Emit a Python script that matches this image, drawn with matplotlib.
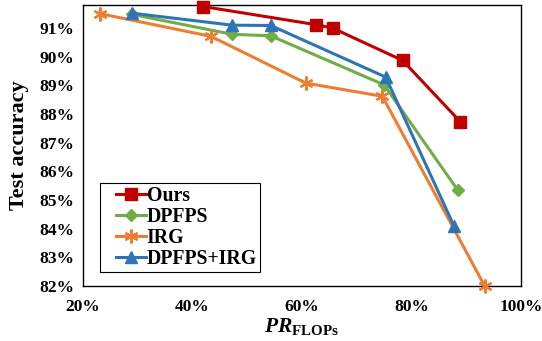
import matplotlib
matplotlib.use("Agg")
import matplotlib.pyplot as plt
from matplotlib.ticker import FuncFormatter
from matplotlib.legend_handler import HandlerLine2D

# Data (x: PR_FLOPs in %, y: test accuracy in %)
ours_x = [42.0, 62.5, 65.6, 78.4, 88.9]
ours_y = [91.75, 91.12, 91.0, 89.87, 87.74]

dpfps_x = [28.9, 47.3, 54.3, 75.0, 88.5]
dpfps_y = [91.48, 90.78, 90.73, 89.02, 85.34]

irg_x = [23.2, 43.4, 60.7, 74.7, 93.4]
irg_y = [91.5, 90.71, 89.08, 88.62, 82.0]

both_x = [28.9, 47.3, 54.3, 75.3, 87.8]
both_y = [91.52, 91.1, 91.09, 89.29, 84.09]

x_ticks = [20, 40, 60, 80, 100]
y_ticks = [82, 83, 84, 85, 86, 87, 88, 89, 90, 91]

plt.rcParams['font.family'] = ['Liberation Serif', 'DejaVu Serif']
plt.rcParams['font.weight'] = 'bold'
plt.rcParams['mathtext.fontset'] = 'custom'
plt.rcParams['mathtext.rm'] = 'Liberation Serif:bold'
plt.rcParams['mathtext.it'] = 'Liberation Serif:italic:bold'
plt.rcParams['mathtext.bf'] = 'Liberation Serif:bold'

fig = plt.figure(figsize=(5.42, 3.41), dpi=100)
ax = fig.add_axes([0.153, 0.161, 0.808, 0.824])

ax.plot(ours_x, ours_y, color='#C00000', marker='s', markersize=8, lw=2.2, label='Ours', clip_on=False, zorder=5)
ax.plot(dpfps_x, dpfps_y, color='#70AD47', marker='D', markersize=6.5, lw=2.2, label='DPFPS', clip_on=False, zorder=3)
ax.plot(irg_x, irg_y, color='#ED7D31', marker=(6, 2, 0), markersize=10, markeredgewidth=1.6, lw=2.2, label='IRG', clip_on=False, zorder=3)
ax.plot(both_x, both_y, color='#2E75B6', marker='^', markersize=8.5, lw=2.2, label='DPFPS+IRG', clip_on=False, zorder=4)

ax.set_xlim(20, 100)
ax.set_ylim(82, 91.8)
ax.set_xticks(x_ticks)
ax.set_yticks(y_ticks)
ax.xaxis.set_major_formatter(FuncFormatter(lambda v, p: f"{v:.0f}%"))
ax.yaxis.set_major_formatter(FuncFormatter(lambda v, p: f"{v:.0f}%"))
ax.tick_params(length=0, labelsize=12.5, pad=6)
ax.tick_params(axis='x', pad=9)
for s in ax.spines.values():
    s.set_linewidth(1.0)
    s.set_color('black')

ax.set_ylabel('Test accuracy', fontsize=16, fontweight='bold')
ax.yaxis.set_label_coords(-0.123, 0.5)
ax.set_xlabel(r'$PR_{\mathbf{FLOPs}}$', fontsize=15.5, labelpad=1)

# xpad shifts the legend line start right, leaving a gap after the frame
leg = ax.legend(loc='lower left', bbox_to_anchor=(0.039, 0.05), fontsize=14.2,
                frameon=True, fancybox=False, edgecolor='black', framealpha=1,
                handlelength=2.16, handletextpad=0.05, labelspacing=0.06,
                borderpad=0.15, borderaxespad=0,
                handler_map={plt.Line2D: HandlerLine2D(xpad=0.67)})
leg.get_frame().set_linewidth(0.8)

fig.savefig('out.png', dpi=100)
